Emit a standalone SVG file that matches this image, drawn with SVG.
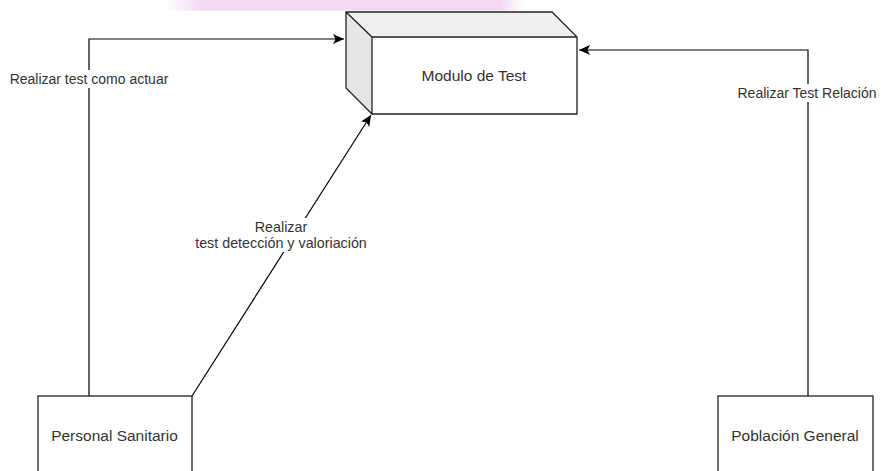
<svg xmlns="http://www.w3.org/2000/svg" width="881" height="471" viewBox="0 0 881 471">
  <defs>
    <linearGradient id="pinkFade" x1="165" y1="0" x2="525" y2="0" gradientUnits="userSpaceOnUse">
      <stop offset="0" stop-color="#f2d9f2" stop-opacity="0"/>
      <stop offset="0.1" stop-color="#f2d9f2" stop-opacity="1"/>
      <stop offset="0.93" stop-color="#f2d9f2" stop-opacity="1"/>
      <stop offset="1" stop-color="#f2d9f2" stop-opacity="0"/>
    </linearGradient>
    <marker id="arrow" viewBox="0 0 11 10" refX="11" refY="5" markerWidth="11" markerHeight="10" markerUnits="userSpaceOnUse" orient="auto">
      <path d="M0,0 L11,5 L0,10 L2.5,5 Z" fill="#000"/>
    </marker>
    <style>
      .lbl { font-family: "Liberation Sans", Arial, sans-serif; font-size: 14px; fill: #333; text-anchor: middle; dominant-baseline: central; }
      .node { font-size: 15.5px; }
      .edge { fill: none; stroke: #000; stroke-width: 1.2; }
      .box { fill: #fff; stroke: #222; stroke-width: 1.3; }
      .bg { fill: #fff; }
    </style>
  </defs>
  <rect width="881" height="471" fill="#fff"/>
  <rect x="165" y="0" width="360" height="10.5" fill="url(#pinkFade)"/>

  <g id="connectors">
    <path class="edge" d="M89,396 L89,39 L344,39" marker-end="url(#arrow)"/>
    <path class="edge" d="M808,396 L808,50 L579,50" marker-end="url(#arrow)"/>
    <path class="edge" d="M192,396 L371,115" marker-end="url(#arrow)"/>
    <rect class="bg" x="9" y="70" width="160" height="18"/>
    <text class="lbl" x="89" y="79">Realizar test como actuar</text>
    <rect class="bg" x="736" y="84" width="142" height="18"/>
    <text class="lbl" x="807" y="93">Realizar Test Relación</text>
    <rect class="bg" x="194" y="218" width="175" height="34"/>
    <text class="lbl" x="281" y="227" style="font-size:14.3px">Realizar</text>
    <text class="lbl" x="281" y="243" style="font-size:14.3px">test detección y valoriación</text>
  </g>

  <g id="modulo-test">
    <polygon points="346,12 552,12 577,37 372,37" fill="#f0f0f0"/>
    <polygon points="346,12 372,37 372,114 346,88" fill="#e6e6e6"/>
    <rect x="372" y="37" width="205" height="77" fill="#fff"/>
    <path d="M346,12 L552,12 L577,37 L577,114 L372,114 L346,88 Z M346,12 L372,37 L577,37 M372,37 L372,114" fill="none" stroke="#222" stroke-width="1.3" stroke-linejoin="miter"/>
    <text class="lbl node" x="474" y="75">Modulo de Test</text>
  </g>

  <g id="personal-sanitario">
    <rect class="box" x="38" y="396" width="154" height="80"/>
    <text class="lbl node" x="114.5" y="435">Personal Sanitario</text>
  </g>

  <g id="poblacion-general">
    <rect class="box" x="718" y="396" width="155" height="80"/>
    <text class="lbl node" x="795" y="435">Población General</text>
  </g>
</svg>
